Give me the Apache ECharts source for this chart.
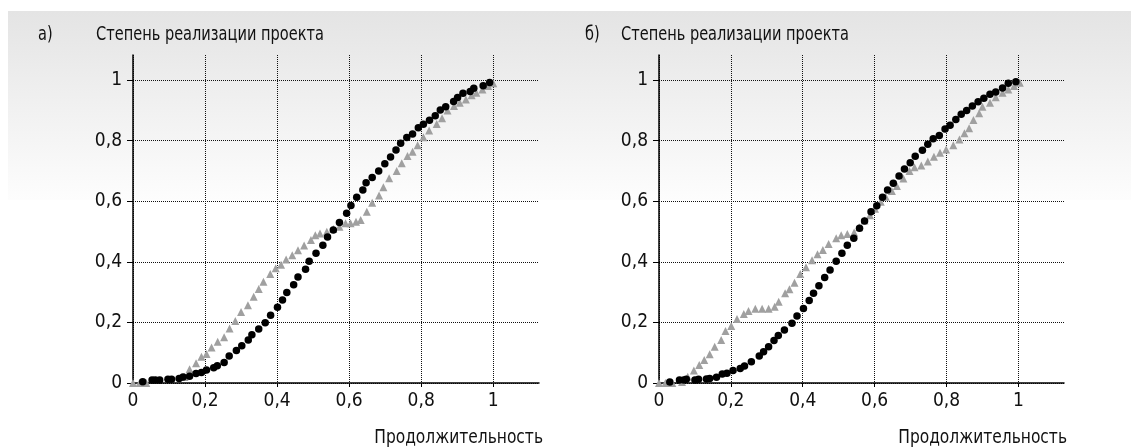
<!DOCTYPE html>
<html>
<head>
<meta charset="utf-8">
<script src="https://cdn.jsdelivr.net/npm/echarts@6.0.0/dist/echarts.min.js"></script>
<style>
	html, body { margin: 0; padding: 0; background: #fff; }
	#chart { width: 1131px; height: 447px; }
</style>
</head>
<body>
<div id="chart"></div>
<script>
	// подписи
	var panelLetters = ['а)', 'б)'];
	var yTitle = 'Степень реализации проекта';
	var xTitle = 'Продолжительность';
	var tickValues = [0, 0.2, 0.4, 0.6, 0.8, 1];

	// панель а) - круги (чёрные) и треугольники (серые), [x, y]
	var aCircles = [
		[0.027, 0.004], [0.053, 0.010], [0.062, 0.010], [0.074, 0.010], [0.097, 0.012],
		[0.107, 0.012], [0.128, 0.015], [0.139, 0.020], [0.157, 0.022], [0.175, 0.031],
		[0.190, 0.035], [0.204, 0.043], [0.224, 0.050], [0.234, 0.057], [0.253, 0.068],
		[0.267, 0.089], [0.287, 0.107], [0.302, 0.123], [0.320, 0.142], [0.330, 0.159],
		[0.349, 0.178], [0.367, 0.199], [0.382, 0.224], [0.401, 0.250], [0.415, 0.274],
		[0.427, 0.299], [0.446, 0.324], [0.458, 0.350], [0.479, 0.375], [0.489, 0.402],
		[0.508, 0.428], [0.527, 0.455], [0.540, 0.482], [0.556, 0.505], [0.573, 0.530],
		[0.593, 0.560], [0.605, 0.586], [0.621, 0.613], [0.638, 0.637], [0.647, 0.661],
		[0.664, 0.678], [0.682, 0.700], [0.699, 0.724], [0.715, 0.746], [0.730, 0.769],
		[0.743, 0.791], [0.760, 0.810], [0.776, 0.822], [0.792, 0.842], [0.806, 0.854],
		[0.823, 0.867], [0.839, 0.882], [0.853, 0.901], [0.868, 0.912], [0.890, 0.929],
		[0.901, 0.942], [0.916, 0.956], [0.936, 0.962], [0.946, 0.973], [0.972, 0.981],
		[0.990, 0.992]
	];
	var aTriangles = [
		[0.000, 0.000], [0.018, 0.000], [0.037, 0.000], [0.143, 0.020], [0.157, 0.045],
		[0.175, 0.065], [0.190, 0.087], [0.204, 0.096], [0.218, 0.117], [0.235, 0.136],
		[0.253, 0.151], [0.268, 0.180], [0.284, 0.205], [0.300, 0.234], [0.319, 0.257],
		[0.335, 0.285], [0.349, 0.310], [0.362, 0.334], [0.381, 0.360], [0.396, 0.379],
		[0.411, 0.390], [0.425, 0.408], [0.442, 0.422], [0.458, 0.438], [0.475, 0.454],
		[0.494, 0.472], [0.506, 0.488], [0.519, 0.493], [0.538, 0.499], [0.556, 0.508],
		[0.573, 0.516], [0.590, 0.527], [0.604, 0.527], [0.619, 0.532], [0.632, 0.538],
		[0.649, 0.565], [0.664, 0.595], [0.683, 0.619], [0.695, 0.646], [0.711, 0.676],
		[0.732, 0.700], [0.746, 0.725], [0.762, 0.749], [0.776, 0.763], [0.790, 0.785],
		[0.806, 0.811], [0.822, 0.833], [0.843, 0.855], [0.858, 0.874], [0.873, 0.899],
		[0.891, 0.914], [0.907, 0.925], [0.924, 0.936], [0.940, 0.950], [0.953, 0.958],
		[0.970, 0.969], [0.986, 0.980], [1.000, 0.989]
	];

	// панель б)
	var bCircles = [
		[0.030, 0.003], [0.057, 0.010], [0.069, 0.010], [0.076, 0.012], [0.100, 0.010],
		[0.110, 0.012], [0.132, 0.013], [0.141, 0.015], [0.160, 0.019], [0.176, 0.030],
		[0.189, 0.032], [0.206, 0.041], [0.226, 0.048], [0.238, 0.056], [0.257, 0.070],
		[0.279, 0.089], [0.291, 0.103], [0.305, 0.120], [0.320, 0.140], [0.332, 0.157],
		[0.349, 0.175], [0.370, 0.197], [0.384, 0.221], [0.402, 0.246], [0.418, 0.272],
		[0.430, 0.296], [0.445, 0.321], [0.461, 0.348], [0.476, 0.373], [0.493, 0.402],
		[0.509, 0.428], [0.524, 0.455], [0.542, 0.478], [0.558, 0.511], [0.572, 0.535],
		[0.590, 0.565], [0.606, 0.585], [0.622, 0.613], [0.636, 0.637], [0.652, 0.659],
		[0.668, 0.683], [0.683, 0.706], [0.699, 0.727], [0.713, 0.748], [0.733, 0.768],
		[0.748, 0.788], [0.763, 0.806], [0.780, 0.817], [0.796, 0.838], [0.810, 0.851],
		[0.826, 0.870], [0.841, 0.887], [0.856, 0.899], [0.872, 0.914], [0.888, 0.928],
		[0.904, 0.940], [0.921, 0.953], [0.937, 0.960], [0.956, 0.974], [0.972, 0.989],
		[0.993, 0.994]
	];
	var bTriangles = [
		[0.000, 0.000], [0.018, 0.000], [0.037, 0.000], [0.064, 0.003], [0.080, 0.021],
		[0.097, 0.041], [0.112, 0.059], [0.126, 0.076], [0.141, 0.095], [0.155, 0.120],
		[0.173, 0.142], [0.185, 0.172], [0.201, 0.188], [0.217, 0.211], [0.236, 0.228],
		[0.249, 0.238], [0.268, 0.245], [0.287, 0.245], [0.305, 0.245], [0.322, 0.252],
		[0.333, 0.268], [0.351, 0.296], [0.363, 0.309], [0.377, 0.331], [0.393, 0.360],
		[0.409, 0.382], [0.426, 0.405], [0.441, 0.425], [0.456, 0.439], [0.472, 0.459],
		[0.493, 0.478], [0.507, 0.488], [0.524, 0.492], [0.543, 0.497], [0.557, 0.514],
		[0.572, 0.536], [0.587, 0.554], [0.601, 0.575], [0.617, 0.598], [0.631, 0.615],
		[0.648, 0.634], [0.662, 0.650], [0.680, 0.675], [0.697, 0.700], [0.711, 0.712],
		[0.730, 0.718], [0.748, 0.731], [0.765, 0.747], [0.782, 0.760], [0.799, 0.771],
		[0.819, 0.785], [0.836, 0.804], [0.850, 0.824], [0.863, 0.841], [0.875, 0.868],
		[0.891, 0.890], [0.900, 0.912], [0.921, 0.925], [0.937, 0.943], [0.956, 0.958],
		[0.972, 0.969], [0.988, 0.980], [1.004, 0.991]
	];

	var font = "'Liberation Sans Narrow', 'DejaVu Sans Condensed', 'Roboto', sans-serif";
	var textColor = '#111';

	// 0.2 -> "0,2"
	function commaLabel(v) {
		return String(v).replace('.', ',');
	}

	function makeXAxis(idx) {
		return {
			gridIndex: idx,
			type: 'value',
			min: 0,
			max: 1.127,
			axisLine: { show: true, onZero: false, lineStyle: { color: '#000', width: 1.5 } },
			axisTick: { show: true, customValues: tickValues, length: 4, lineStyle: { color: '#000' } },
			axisLabel: {
				customValues: tickValues,
				formatter: commaLabel,
				margin: 9,
				color: textColor,
				fontSize: 19,
				fontFamily: font
			},
			splitLine: { show: true, lineStyle: { type: 'dotted', color: '#111', width: 1 } }
		};
	}

	function makeYAxis(idx) {
		return {
			gridIndex: idx,
			type: 'value',
			min: 0,
			max: 1.0825,
			axisLine: { show: true, onZero: false, lineStyle: { color: '#000', width: 1.5 } },
			axisTick: { show: true, customValues: tickValues, length: 6, lineStyle: { color: '#000' } },
			axisLabel: {
				customValues: tickValues,
				formatter: commaLabel,
				margin: 11,
				color: textColor,
				fontSize: 19,
				fontFamily: font
			},
			splitLine: { show: true, lineStyle: { type: 'dotted', color: '#111', width: 1 } }
		};
	}

	function triangleSeries(idx, data) {
		return {
			type: 'scatter',
			xAxisIndex: idx,
			yAxisIndex: idx,
			symbol: 'triangle',
			symbolSize: 8,
			itemStyle: { color: '#a0a0a0', opacity: 1 },
			z: 3,
			data: data
		};
	}

	function circleSeries(idx, data) {
		return {
			type: 'scatter',
			xAxisIndex: idx,
			yAxisIndex: idx,
			symbol: 'circle',
			symbolSize: 7.5,
			itemStyle: { color: '#000', opacity: 1 },
			z: 4,
			data: data
		};
	}

	// текст сжат по горизонтали, как узкий шрифт оригинала
	function textEl(x, y, str, align, sx) {
		return {
			type: 'text',
			x: x,
			y: y,
			scaleX: sx,
			silent: true,
			style: {
				text: str,
				fill: textColor,
				font: '20px ' + font,
				textAlign: align,
				textVerticalAlign: 'middle'
			}
		};
	}

	var myChart = echarts.init(document.getElementById('chart'), null, { renderer: 'canvas' });

	var option = {
		animation: false,
		backgroundColor: '#fff',
		grid: [
			{ left: 133, top: 55, width: 406, height: 328 },
			{ left: 659, top: 55, width: 405, height: 328 }
		],
		xAxis: [makeXAxis(0), makeXAxis(1)],
		yAxis: [makeYAxis(0), makeYAxis(1)],
		graphic: [
			{
				// серая полоса фона сверху
				type: 'rect',
				z: -10,
				silent: true,
				shape: { x: 8, y: 11, width: 1123, height: 189 },
				style: {
					fill: new echarts.graphic.LinearGradient(0, 0, 0, 1, [
						{ offset: 0, color: '#e4e4e4' },
						{ offset: 1, color: '#fdfdfd' }
					])
				}
			},
			textEl(38, 35, panelLetters[0], 'left', 0.81),
			textEl(96, 35, yTitle, 'left', 0.81),
			textEl(585, 35, panelLetters[1], 'left', 0.81),
			textEl(621, 35, yTitle, 'left', 0.81),
			textEl(543, 438, xTitle, 'right', 0.86),
			textEl(1067, 438, xTitle, 'right', 0.86)
		],
		series: [
			triangleSeries(0, aTriangles),
			circleSeries(0, aCircles),
			triangleSeries(1, bTriangles),
			circleSeries(1, bCircles)
		]
	};

	myChart.setOption(option);
</script>
</body>
</html>
